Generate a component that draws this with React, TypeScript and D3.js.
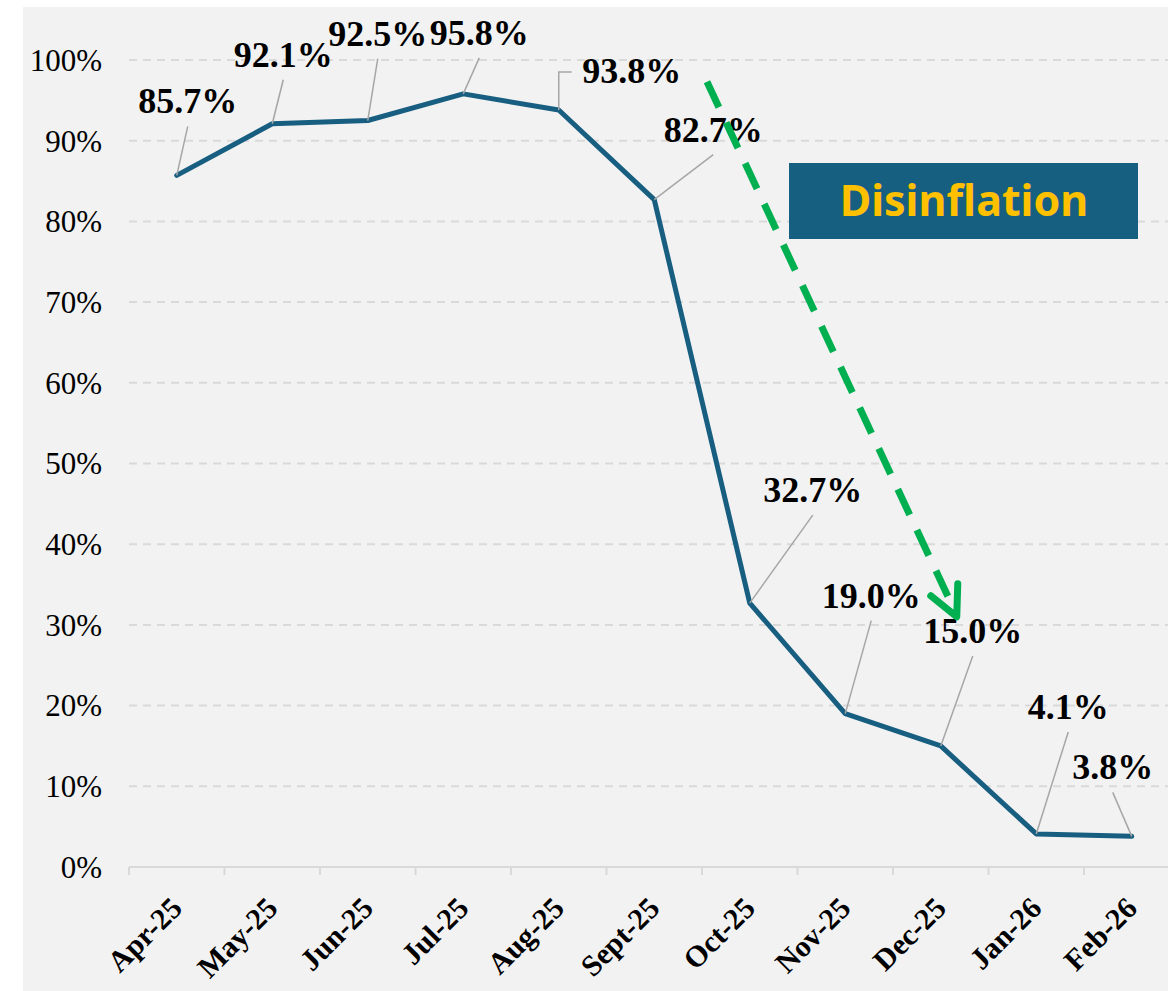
import React, { useEffect, useRef } from 'react';
import * as d3 from 'd3';

// monthly values (%)
const months = ['Apr-25', 'May-25', 'Jun-25', 'Jul-25', 'Aug-25', 'Sept-25', 'Oct-25', 'Nov-25', 'Dec-25', 'Jan-26', 'Feb-26'];
const values = [85.7, 92.1, 92.5, 95.8, 93.8, 82.7, 32.7, 19.0, 15.0, 4.1, 3.8];
const yTicks = [0, 10, 20, 30, 40, 50, 60, 70, 80, 90, 100];

// where each data label sits relative to its point (label centre x, baseline y)
const labelOffsets = [
  [11, -62], [11, -57], [10, -75], [16, -49], [73, -27], [59, -58],
  [63, -101], [26, -106], [32, -103], [32, -115], [-19, -57],
];

const W = 1168;
const H = 991;
const LINE = '#175e80';
const serif = '"Liberation Serif", "Times New Roman", serif';

const App = () => {
  const svgRef = useRef<SVGSVGElement>(null);

  useEffect(() => {
    const svg = d3.select(svgRef.current);
    svg.selectAll('*').remove();

    const left = 129;
    const step = 95.5;
    const x = d3.scaleBand().domain(months).range([left, left + step * months.length]).padding(0);
    const y = d3.scaleLinear().domain([0, 100]).range([867, 60]);
    const cx = (m: string) => (x(m) as number) + x.bandwidth() / 2;

    // chart background
    svg.append('rect').attr('x', 23).attr('y', 7).attr('width', W - 23).attr('height', H - 7).attr('fill', '#f2f2f2');

    // gridlines
    svg.append('g')
      .selectAll('line')
      .data(yTicks.filter(t => t > 0))
      .enter()
      .append('line')
      .attr('x1', left)
      .attr('x2', W)
      .attr('y1', d => y(d))
      .attr('y2', d => y(d))
      .attr('stroke', '#d9d9d9')
      .attr('stroke-width', 2)
      .attr('stroke-dasharray', '8 6');

    // y tick labels
    svg.append('g')
      .selectAll('text')
      .data(yTicks)
      .enter()
      .append('text')
      .attr('x', 102)
      .attr('y', d => y(d))
      .attr('dy', '0.35em')
      .attr('text-anchor', 'end')
      .style('font-family', serif)
      .style('font-size', '31px')
      .style('fill', '#000')
      .text(d => `${d}%`);

    // x axis with ticks between categories
    const xAxis = svg.append('g').attr('transform', `translate(0,${y(0)})`);
    xAxis.append('line')
      .attr('x1', left).attr('x2', W)
      .attr('stroke', '#d9d9d9').attr('stroke-width', 2);
    xAxis.selectAll('.tick')
      .data(months)
      .enter()
      .append('line')
      .attr('x1', d => x(d) as number)
      .attr('x2', d => x(d) as number)
      .attr('y1', 0)
      .attr('y2', 8)
      .attr('stroke', '#d9d9d9')
      .attr('stroke-width', 2);

    svg.append('g')
      .selectAll('text')
      .data(months)
      .enter()
      .append('text')
      .attr('transform', d => `translate(${cx(d) + 7},${y(0) + 43}) rotate(-45)`)
      .attr('text-anchor', 'end')
      .style('font-family', serif)
      .style('font-weight', 'bold')
      .style('font-size', '30px')
      .style('fill', '#000')
      .text(d => d);

    // the series line
    const pts = months.map((m, i) => ({ m, v: values[i], px: cx(m), py: y(values[i]), off: labelOffsets[i] }));
    const line = d3.line<typeof pts[0]>().x(d => d.px).y(d => d.py);
    svg.append('path')
      .datum(pts)
      .attr('d', line)
      .attr('fill', 'none')
      .attr('stroke', LINE)
      .attr('stroke-width', 5)
      .attr('stroke-linejoin', 'round')
      .attr('stroke-linecap', 'round');

    // leader lines
    svg.append('g')
      .selectAll('path')
      .data(pts)
      .enter()
      .append('path')
      .attr('d', d => {
        const lx = d.px + d.off[0];
        const ly = d.py + d.off[1];
        if (d.off[0] > 60 && d.off[1] > -40) {
          // elbow for a label sitting off to the right
          return `M${d.px},${d.py} L${d.px},${ly - 11} L${lx - 60},${ly - 11}`;
        }
        return `M${lx},${ly + 13} L${d.px},${d.py}`;
      })
      .attr('fill', 'none')
      .attr('stroke', '#a6a6a6')
      .attr('stroke-width', 1.5);

    // data labels
    svg.append('g')
      .selectAll('text')
      .data(pts)
      .enter()
      .append('text')
      .attr('x', d => d.px + d.off[0])
      .attr('y', d => d.py + d.off[1])
      .attr('text-anchor', 'middle')
      .style('font-family', serif)
      .style('font-weight', 'bold')
      .style('font-size', '36px')
      .style('fill', '#000')
      .text(d => `${d.v.toFixed(1)}%`);

    // disinflation arrow
    const ax1 = (x('Oct-25') as number) + 5;
    const ay1 = y(97.3);
    const ax2 = cx('Dec-25') + 16;
    const ay2 = y(31);
    svg.append('line')
      .attr('x1', ax1).attr('y1', ay1)
      .attr('x2', ax2 - 3).attr('y2', ay2 - 8)
      .attr('stroke', '#00b050')
      .attr('stroke-width', 7)
      .attr('stroke-dasharray', '28 17');
    svg.append('path')
      .attr('d', `M${ax2 - 26},${ay2 - 21} L${ax2},${ay2} L${ax2 + 1},${ay2 - 33}`)
      .attr('fill', 'none')
      .attr('stroke', '#00b050')
      .attr('stroke-width', 7)
      .attr('stroke-linejoin', 'round')
      .attr('stroke-linecap', 'round');

    // Disinflation box
    const bx = 789;
    const by = 163;
    svg.append('rect').attr('x', bx).attr('y', by).attr('width', 349).attr('height', 76).attr('fill', '#175f81');
    svg.append('text')
      .attr('x', bx + 175)
      .attr('y', by + 38)
      .attr('dy', '0.36em')
      .attr('text-anchor', 'middle')
      .style('font-family', '"Noto Sans", sans-serif')
      .style('font-weight', 'bold')
      .style('font-size', '43px')
      .style('fill', '#ffc000')
      .text('Disinflation');
  }, []);

  return (
    <svg ref={svgRef} width={W} height={H} style={{ position: 'absolute', left: 0, top: 0, background: '#fff' }} />
  );
};

export default App;
